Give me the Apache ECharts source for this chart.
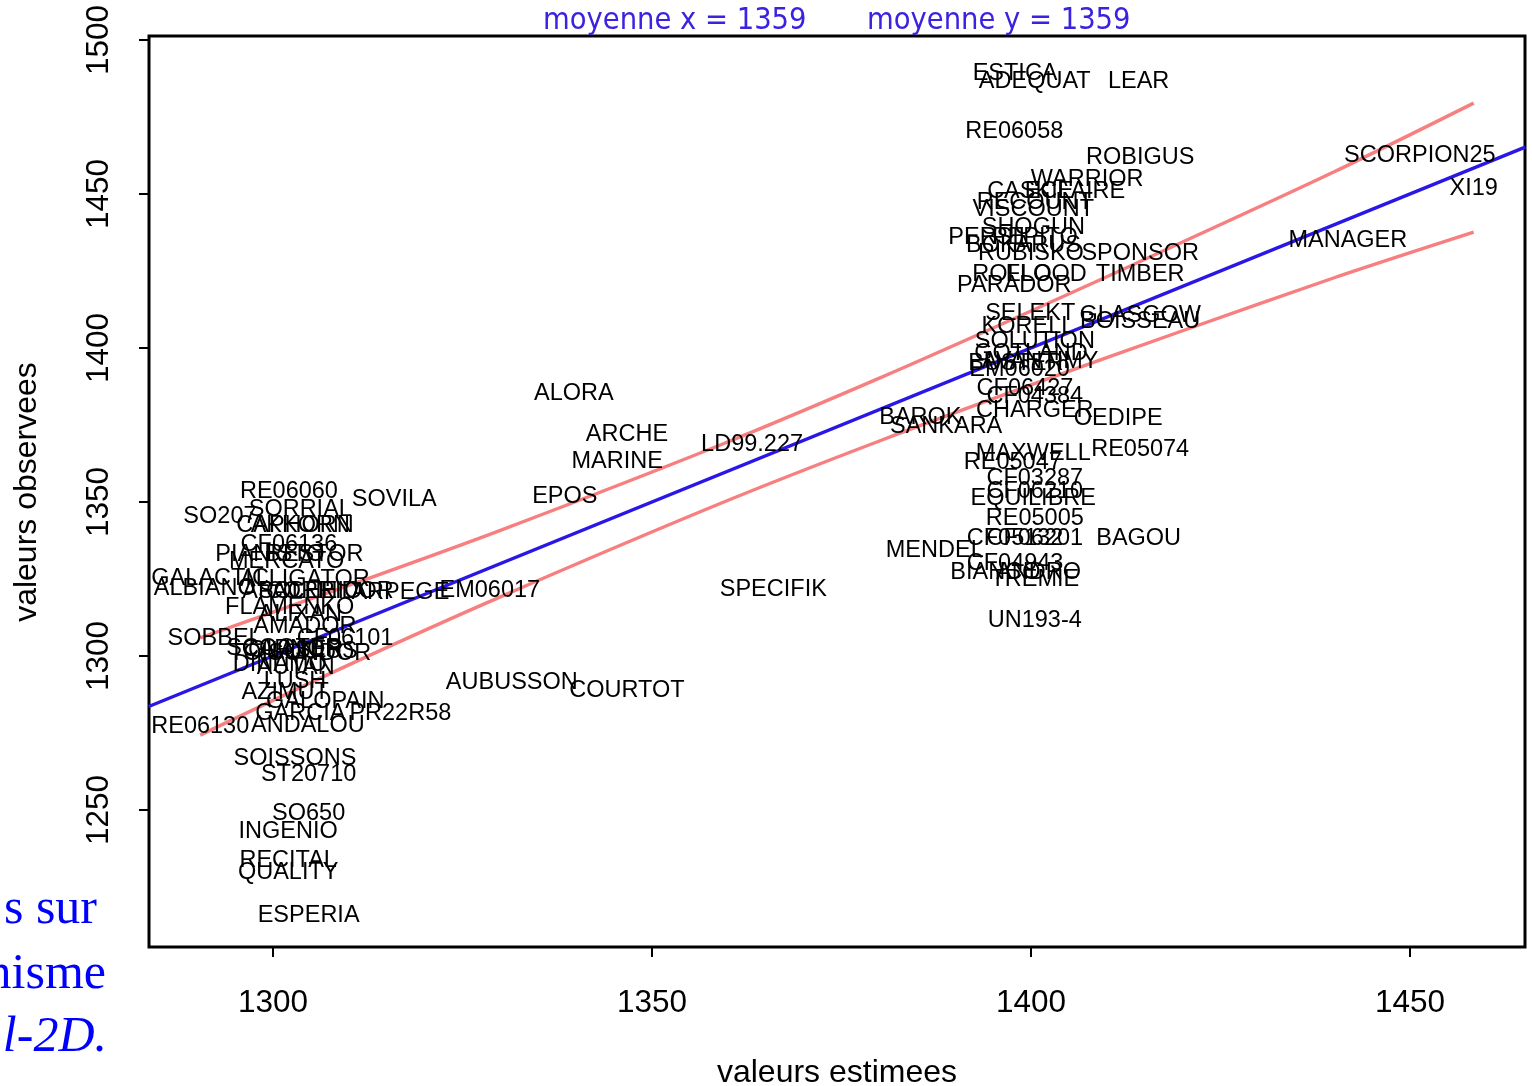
<!DOCTYPE html>
<html><head><meta charset="utf-8">
<script src="https://cdn.jsdelivr.net/npm/echarts@6/dist/echarts.min.js"></script>
<style>html,body{margin:0;padding:0;background:#fff}#c{width:1532px;height:1086px}</style>
</head><body><div id="c"></div>
<script>
// Variety labels placed at (estimated value, observed value)
const names = ["ESTICA","ADEQUAT","LEAR","RE06058","ROBIGUS","WARRIOR","CASKIE","ECLAIRE","RECOUNT","VISCOUNT","SHOGUN","PERSIL","PEPITO","BOKARUS","RUBISKO","SPONSOR","TIMBER","ROLLO","FLOOD","PARADOR","SELEKT","KORELL","GLASGOW","BOISSEAU","SOLUTION","GOTLAND","AVANTIMY","BUSTER","EM06020","CF06427","CF04384","CHARGER","OEDIPE","BAROK","SANKARA","MAXWELL","RE05047","RE05074","CF03287","CF06210","EQUILIBRE","RE05005","CF05132","CF06201","BAGOU","MENDEL","CF04943","BIANCO","ANDRO","TREMIE","UN193-4","MANAGER","SCORPION25","XI19","SPECIFIK","LD99.227","ALORA","ARCHE","MARINE","EPOS","EM06017","AUBUSSON","COURTOT","RE06060","SOVILA","SO207","SORRIAL","CAPHORN","AKKORN","CF06136","PIANISTO","RESTOR","MERCATO","GALACTIC","ALLIGATOR","ALBIANO","APACHE","SOLEHIO","CORRIDOR","ARPEGE","FLAMENKO","ALIXAN","AMADOR","SOBBEL","CF06101","SCOOTER","GLASER","TOISONDOR","CAPNOR","LUCIUS","DINAMO","AUTAN","LUSH","AZIMUT","GALOPAIN","GARCIA","PR22R58","RE06130","ANDALOU","SOISSONS","ST20710","SO650","INGENIO","RECITAL","QUALITY","ESPERIA"];
const estimated = [1397.9,1400.5,1414.2,1397.8,1414.4,1407.4,1399.9,1405.8,1400.5,1400.3,1400.3,1394.6,1400.5,1399.0,1400.0,1414.4,1414.4,1397.5,1402.0,1397.8,1399.9,1399.6,1414.4,1414.4,1400.5,1400.0,1401.2,1398.0,1398.5,1399.2,1400.5,1400.5,1411.5,1385.4,1388.8,1400.3,1397.6,1414.4,1400.5,1400.5,1400.3,1400.5,1397.9,1400.5,1414.2,1387.3,1397.9,1395.3,1401.0,1400.5,1400.5,1441.8,1451.3,1458.4,1366.0,1363.2,1339.7,1346.7,1345.4,1338.5,1328.6,1331.5,1346.7,1302.1,1316.0,1293.0,1303.6,1302.9,1303.6,1302.1,1299.6,1305.5,1301.8,1291.7,1304.2,1291.0,1302.2,1304.9,1307.5,1316.8,1302.2,1303.6,1304.2,1292.3,1309.5,1301.5,1303.0,1303.6,1302.5,1305.5,1300.9,1303.0,1302.9,1301.6,1306.9,1303.6,1316.8,1290.4,1304.6,1302.9,1304.7,1304.7,1302.0,1302.0,1302.0,1304.7];
const observed = [1489.9,1487.3,1487.3,1471.0,1462.6,1455.4,1451.5,1451.5,1447.9,1445.6,1439.8,1436.5,1436.5,1433.8,1431.3,1431.3,1424.5,1424.5,1424.5,1420.9,1411.8,1407.6,1411.2,1409.2,1402.7,1398.8,1396.2,1395.5,1393.5,1387.5,1384.9,1380.3,1377.7,1378.0,1375.1,1366.3,1363.4,1367.6,1358.2,1354.0,1351.7,1345.2,1338.7,1338.7,1338.7,1334.8,1330.6,1327.6,1327.6,1325.4,1312.0,1435.6,1463.2,1452.5,1322.1,1369.2,1385.8,1372.5,1363.7,1352.3,1321.8,1291.9,1289.3,1354.0,1351.4,1345.8,1348.1,1342.9,1342.9,1336.7,1333.5,1333.5,1331.2,1325.7,1325.4,1322.4,1321.5,1321.5,1321.5,1321.1,1316.3,1314.0,1310.1,1306.2,1306.2,1303.2,1302.4,1301.4,1302.9,1302.0,1297.8,1297.0,1292.5,1288.9,1286.0,1282.1,1282.1,1277.6,1278.2,1267.2,1262.3,1249.6,1243.8,1234.3,1230.4,1216.4];

// Reference line y = x (read at the plot edges)
const refLineX = [1283.6, 1465.2];
const refLineY = [1283.6, 1465.2];
// Upper and lower band curves
const bandX = [1290.4, 1310, 1330, 1359, 1380, 1400, 1420, 1440, 1458.4];
const upperY = [1305.9, 1322.9, 1340.8, 1368.5, 1390.2, 1412.0, 1434.4, 1457.2, 1479.5];
const lowerY = [1274.3, 1297.1, 1319.2, 1349.5, 1369.8, 1388.0, 1405.6, 1422.8, 1437.6];

const xTicks = [1300, 1350, 1400, 1450];
const yTicks = [1250, 1300, 1350, 1400, 1450, 1500];
const meanText = ["moyenne x = 1359", "moyenne y = 1359"];
const xTitle = "valeurs estimees";
const yTitle = "valeurs observees";
const sideText = ["s sur", "nisme", "l-2D."];

const chart = echarts.init(document.getElementById('c'), null, {renderer: 'canvas'});
const F = '"Liberation Sans", Arial, sans-serif';
const pts = names.map((n, i) => [estimated[i], observed[i], n]);
const zip = (a, b) => a.map((v, i) => [v, b[i]]);
const plain = v => String(v);

chart.setOption({
  animation: false,
  backgroundColor: '#fff',
  grid: {left: 149, right: 7, top: 36, bottom: 139, show: true, borderColor: '#000', borderWidth: 3, backgroundColor: 'transparent'},
  xAxis: {type: 'value', min: 1283.64, max: 1465.17,
    axisLine: {show: false}, splitLine: {show: false},
    axisTick: {show: true, length: 10, lineStyle: {color: '#000', width: 2}, customValues: xTicks},
    axisLabel: {fontSize: 31.5, fontFamily: F, color: '#000', margin: 40, customValues: xTicks, formatter: plain}},
  yAxis: {type: 'value', min: 1205.5, max: 1501.3,
    axisLine: {show: false}, splitLine: {show: false},
    axisTick: {show: true, length: 10, lineStyle: {color: '#000', width: 2}, customValues: yTicks},
    axisLabel: {fontSize: 31.5, fontFamily: F, color: '#000', margin: 34, rotate: 90, customValues: yTicks, formatter: plain}},
  series: [
    {type: 'line', data: zip(refLineX, refLineY), showSymbol: false, lineStyle: {color: '#2a17e6', width: 3.4}, z: 3},
    {type: 'line', data: zip(bandX, upperY), smooth: 0.3, showSymbol: false, lineStyle: {color: '#f77f7f', width: 3.4}, z: 2},
    {type: 'line', data: zip(bandX, lowerY), smooth: 0.3, showSymbol: false, lineStyle: {color: '#f77f7f', width: 3.4}, z: 2},
    {type: 'scatter', data: pts, symbolSize: 1, itemStyle: {color: 'rgba(255,255,255,0)', opacity: 1}, z: 5,
      label: {show: true, position: 'inside', offset: [0, 2], formatter: p => p.data[2], color: '#000', opacity: 1, textBorderWidth: 0, fontSize: 23.5, fontFamily: F}}
  ],
  graphic: [
    {type: 'text', left: 543, top: 6, style: {text: meanText[0], font: '30.5px "Liberation Sans Narrow", "DejaVu Sans Condensed", sans-serif', fill: '#3a22e0'}},
    {type: 'text', left: 867, top: 6, style: {text: meanText[1], font: '30.5px "Liberation Sans Narrow", "DejaVu Sans Condensed", sans-serif', fill: '#3a22e0'}},
    {type: 'text', x: 837, y: 1073, style: {text: xTitle, font: '32px ' + F, fill: '#000', textAlign: 'center', textVerticalAlign: 'middle'}},
    {type: 'text', x: 27, y: 492, rotation: Math.PI / 2, style: {text: yTitle, font: '32px ' + F, fill: '#000', textAlign: 'center', textVerticalAlign: 'middle'}},
    {type: 'text', x: 97, y: 935, style: {text: sideText[0], font: '50px "Liberation Serif", serif', fill: '#0000ff', textAlign: 'right', textVerticalAlign: 'bottom'}},
    {type: 'text', x: 106, y: 1000, style: {text: sideText[1], font: '50px "Liberation Serif", serif', fill: '#0000ff', textAlign: 'right', textVerticalAlign: 'bottom'}},
    {type: 'text', x: 107, y: 1063, style: {text: sideText[2], font: 'italic 50px "Liberation Serif", serif', fill: '#0000ff', textAlign: 'right', textVerticalAlign: 'bottom'}}
  ]
});
</script></body></html>
